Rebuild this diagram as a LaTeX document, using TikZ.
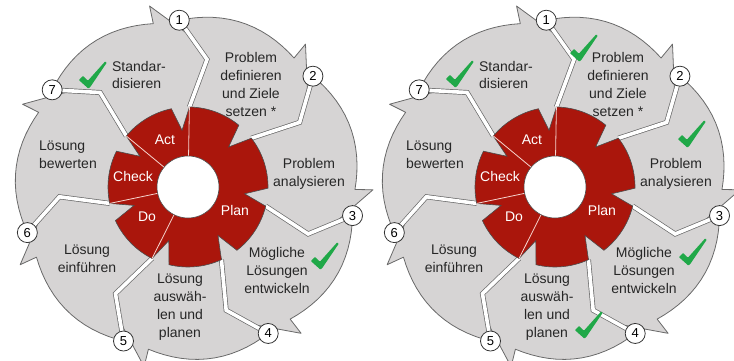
\documentclass[tikz,border=0pt]{standalone}
\usepackage{fontspec}
\setmainfont{Liberation Sans}
\usetikzlibrary{calc}

\definecolor{segfill}{RGB}{214,212,212}
\definecolor{segline}{RGB}{105,105,105}
\definecolor{pdcared}{RGB}{170,22,12}
\definecolor{dividerpink}{RGB}{246,212,206}
\definecolor{tickgreen}{RGB}{32,168,72}

\tikzset{checkmark/.pic={
    \fill[tickgreen, rounded corners=0.8pt] (-14.1,-6.1) -- (-9.9,-1.9) -- (-5.1,-6.7) -- (12.2,12.6)
        -- (13.8,11.4) -- (-2.6,-12.8) -- (-4.6,-14.6) -- cycle;
}}

\begin{document}
\begin{tikzpicture}[x=1pt, y=1pt]
    \tikzstyle{segment} = [fill=segfill, draw=segline, line width=0.8pt, line join=round];
    \tikzstyle{gap} = [draw=segline, line width=0.7pt, double=white, double distance=3.6pt];
    \tikzstyle{core} = [fill=pdcared, draw=black!70, line width=0.6pt];
    \tikzstyle{hub} = [fill=white, draw=black!70, line width=0.6pt];
    \tikzstyle{divider} = [draw=dividerpink, line width=0.8pt];
    \tikzstyle{numbox} = [circle, draw=black!80, fill=white, line width=0.8pt, minimum size=20pt, inner sep=0pt, font=\fontsize{13}{13}\selectfont];
    \tikzstyle{steptext} = [align=center, text=black!85, font=\fontsize{14}{18}\selectfont];
    \tikzstyle{phase} = [text=white, font=\fontsize{14}{14}\selectfont];

    \useasboundingbox (0,0) rectangle (734,361);

    \foreach \cx/\w in {188/L, 555/R} {
    \begin{scope}[shift={(\cx,174)}]
        % grey arrows, one per step, clockwise from the top
        \foreach \k in {1,...,7} {
            \pgfmathsetmacro{\ang}{93-51.43*(\k-1)}
            \pgfmathsetmacro{\nxt}{\ang-51.43}
            \filldraw[segment]
                plot[variable=\t, domain=0:1, samples=16] ({\ang-42.43*\t}:{167+6*sin(180*\t)})
                -- ({\nxt+9}:185)
                -- ($({\nxt}:167)!0.4!({\nxt-11.5}:129)$)
                -- ({\nxt-11.5}:129) -- ({\nxt-4}:80) -- ({\nxt-4}:50)
                arc[start angle=\nxt-4, end angle=\ang-4, radius=50]
                -- ({\ang-4}:80) -- ({\ang-11.5}:129) -- cycle;
        }
        % white gaps between the arrows
        \foreach \k in {1,...,7} {
            \pgfmathsetmacro{\ang}{93-51.43*(\k-1)}
            \draw[gap] (\ang:167) -- ({\ang-11.5}:129) -- ({\ang-4}:80);
        }
        % red PDCA ring with a notch for every arrow tip
        \filldraw[core] (89:80)
            foreach \k in {1,...,7} {
                arc[start angle={93-51.43*(\k-1)-4}, end angle={93-51.43*\k+9}, radius=80]
                -- ({93-51.43*\k+3}:57) -- ({93-51.43*\k-4}:80)
            } -- cycle;
        \foreach \k in {1,5,6,7}
            \draw[divider] ({89-51.43*(\k-1)}:31) -- ({89-51.43*(\k-1)}:80);
        \filldraw[hub] (0,0) circle (31);

        \node[phase] (act\w) at (-23,47) {Act};
        \node[phase] (check\w) at (-55,10) {Check};
        \node[phase] (do\w) at (-41,-30) {Do};
        \node[phase] (plan\w) at (47,-23) {Plan};

        % step numbers on the rim
        \foreach \k in {1,...,7}
            \node[numbox] (num\w\k) at ({93-51.43*(\k-1)}:167) {\k};

        \node[steptext] (define\w) at (63,102) {Problem\\definieren\\und Ziele\\setzen *};
        \node[steptext] (analyse\w) at (121,13) {Problem\\analysieren};
        \node[steptext] (develop\w) at (89,-83) {Mögliche\\Lösungen\\entwickeln};
        \node[steptext] (select\w) at (-8,-120) {Lösung\\auswäh-\\len und\\planen};
        \node[steptext] (apply\w) at (-101,-72) {Lösung\\einführen};
        \node[steptext, align=left] (assess\w) at (-120,32) {Lösung\\bewerten};
        \node[steptext, align=left] (settle\w) at (-49,112) {Standar-\\disieren};
    \end{scope}
    }

    % finished steps
    \pic (doneL7) at (93,287) {checkmark};
    \pic (doneL3) at (325,106) {checkmark};
    \pic (doneR7) at (460,288) {checkmark};
    \pic (doneR1) at (584,314) {checkmark};
    \pic (doneR2) at (692,228) {checkmark};
    \pic (doneR3) at (693,110) {checkmark};
    \pic (doneR4) at (589,37) {checkmark};
\end{tikzpicture}
\end{document}
